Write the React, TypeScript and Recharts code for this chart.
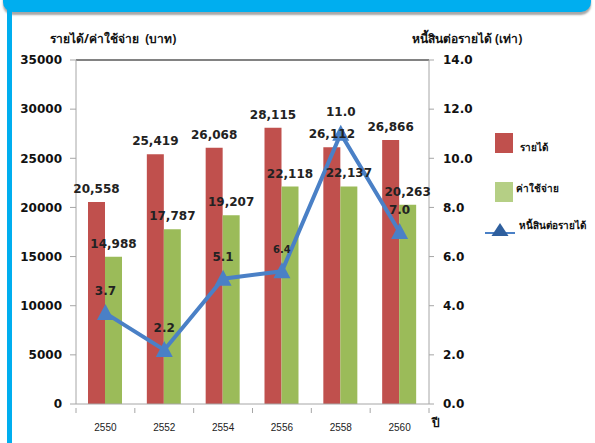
import {
  ComposedChart, Bar, Line, XAxis, YAxis, LabelList, ReferenceLine,
} from 'recharts'

// ปี (พ.ศ.)
const years = ['2550', '2552', '2554', '2556', '2558', '2560']
// รายได้ / ค่าใช้จ่าย (บาท)
const income = [20558, 25419, 26068, 28115, 26112, 26866]
const expense = [14988, 17787, 19207, 22118, 22137, 20263]
// หนี้สินต่อรายได้ (เท่า) — ค่าที่ใช้วาด และป้ายที่แสดงจริงในภาพ
const debtRatio = [3.7, 2.2, 5.1, 5.4, 11.0, 7.0]
const debtLabels = ['3.7', '2.2', '5.1', '6.4', '11.0', '7.0']

const leftTicks = [0, 5000, 10000, 15000, 20000, 25000, 30000, 35000]
const rightTicks = [0, 2, 4, 6, 8, 10, 12, 14]

const data = years.map((year, i) => ({
  year,
  income: income[i],
  expense: expense[i],
  ratio: debtRatio[i],
  ratioLabel: debtLabels[i],
}))

const RED = '#C0504D'
const GREEN = '#9BBB59'
const BLUE = '#4A80C6'
const AXIS = '#A6A6A6'
const NUM_FONT = '"DejaVu Sans", Verdana, sans-serif'
const THAI_FONT = '"Noto Sans", "DejaVu Sans", sans-serif'

const fmt = (v: number) => v.toLocaleString('en-US')

// ป้ายปีอยู่กลางกลุ่ม ส่วนขีดแกนอยู่ที่ขอบกลุ่ม
const BAND = 353 / 6
const XTick = (props: any) => {
  const { x, y, payload, index } = props
  return (
    <g>
      <line x1={x - BAND / 2} y1={y - 4} x2={x - BAND / 2} y2={y + 1} stroke={AXIS} />
      {index === years.length - 1 && (
        <line x1={x + BAND / 2} y1={y - 4} x2={x + BAND / 2} y2={y + 1} stroke={AXIS} />
      )}
      <text x={x} y={y + 19} textAnchor="middle" fontSize={10}
        fontFamily='"Liberation Sans", Arial, sans-serif' fill="#222">
        {payload.value}
      </text>
    </g>
  )
}

const Triangle = (props: any) => {
  const { cx, cy } = props
  if (cx == null || cy == null) return <g />
  return <path d={`M${cx},${cy - 9} L${cx + 8.5},${cy + 7} L${cx - 8.5},${cy + 7} Z`} fill={BLUE} />
}

const RatioLabel = (props: any) => {
  const { x, y, value, index } = props
  const small = index === 3
  return (
    <text x={x} y={y - 18} textAnchor="middle" fontSize={small ? 10 : 12}
      fontWeight="bold" fontFamily={NUM_FONT} fill="#222">
      {value}
    </text>
  )
}

function LegendBox() {
  const txt = { position: 'absolute' as const, fontSize: 10, fontWeight: 'bold' as const, fontFamily: THAI_FONT, color: '#111', whiteSpace: 'nowrap' as const }
  return (
    <>
      <div style={{ position: 'absolute', left: 495, top: 133, width: 18, height: 20, background: RED }} />
      <div style={{ ...txt, left: 520, top: 140 }}>รายได้</div>
      <div style={{ position: 'absolute', left: 495, top: 182, width: 18, height: 20, background: '#B5CF85' }} />
      <div style={{ ...txt, left: 516, top: 181 }}>ค่าใช้จ่าย</div>
      <svg style={{ position: 'absolute', left: 480, top: 215 }} width={40} height={30}>
        <line x1={5} y1={18} x2={35} y2={18} stroke={BLUE} strokeWidth={2} />
        <path d="M20,8 L28.5,21 L11.5,21 Z" fill="#2F5F9E" />
      </svg>
      <div style={{ ...txt, left: 519, top: 218 }}>หนี้สินต่อรายได้</div>
    </>
  )
}

export default function App() {
  return (
    <div style={{ position: 'absolute', left: 0, top: 0, width: 595, height: 443, overflow: 'hidden', background: '#fff' }}>
      {/* กรอบสไลด์ */}
      <div style={{ position: 'absolute', left: 3, top: -12, width: 588, height: 24, background: '#00AEEF', borderRadius: 10, boxShadow: '0 3px 2px rgba(60,60,60,0.45)' }} />
      <div style={{ position: 'absolute', left: 7, top: 8, width: 5, height: 440, background: '#00AEEF' }} />

      <div style={{ position: 'absolute', left: 50, top: 29, fontSize: 12, fontWeight: 'bold', fontFamily: THAI_FONT, color: '#111', whiteSpace: 'pre' }}>
        {'รายได้/ค่าใช้จ่าย  (บาท)'}
      </div>
      <div style={{ position: 'absolute', left: 412, top: 29, fontSize: 12, fontWeight: 'bold', fontFamily: THAI_FONT, color: '#111', whiteSpace: 'pre' }}>
        {'หนี้สินต่อรายได้ (เท่า)'}
      </div>
      <div style={{ position: 'absolute', left: 432, top: 413, fontSize: 12, fontWeight: 'bold', fontFamily: THAI_FONT, color: '#111' }}>
        ปี
      </div>

      <div style={{ position: 'absolute', left: 0, top: 0 }}>
        <ComposedChart width={595} height={443} data={data} barGap={0} barSize={17}
          margin={{ top: 60, right: 106, left: 0, bottom: 0 }}>
          <XAxis dataKey="year" height={39} axisLine={{ stroke: AXIS }} tickLine={false} tick={<XTick />} interval={0} />
          <YAxis yAxisId="left" width={76} domain={[0, 35000]} ticks={leftTicks} interval={0}
            axisLine={{ stroke: AXIS }} tickLine={{ stroke: AXIS }} tickSize={6} tickMargin={8}
            tick={{ fontSize: 12, fontWeight: 'bold', fill: '#111', fontFamily: NUM_FONT }} />
          <YAxis yAxisId="right" orientation="right" width={60} domain={[0, 14]} ticks={rightTicks} interval={0}
            axisLine={{ stroke: AXIS }} tickLine={{ stroke: AXIS }} tickSize={5} tickMargin={9}
            tickFormatter={(v: number) => v.toFixed(1)}
            tick={{ fontSize: 12, fontWeight: 'bold', fill: '#111', fontFamily: NUM_FONT }} />
          <ReferenceLine yAxisId="left" y={35000} stroke="#595959" strokeWidth={1.5} />
          <Bar yAxisId="left" dataKey="income" fill={RED} isAnimationActive={false}>
            <LabelList dataKey="income" position="top" offset={9} formatter={(v: any) => fmt(Number(v))}
              style={{ fontSize: 12, fontWeight: 'bold', fill: '#222', fontFamily: NUM_FONT }} />
          </Bar>
          <Bar yAxisId="left" dataKey="expense" fill={GREEN} isAnimationActive={false}>
            <LabelList dataKey="expense" position="top" offset={9} formatter={(v: any) => fmt(Number(v))}
              style={{ fontSize: 12, fontWeight: 'bold', fill: '#222', fontFamily: NUM_FONT }} />
          </Bar>
          <Line yAxisId="right" dataKey="ratio" stroke={BLUE} strokeWidth={4} type="linear"
            dot={<Triangle />} activeDot={false} isAnimationActive={false}>
            <LabelList dataKey="ratioLabel" content={<RatioLabel />} />
          </Line>
        </ComposedChart>
      </div>
      <LegendBox />
    </div>
  )
}
